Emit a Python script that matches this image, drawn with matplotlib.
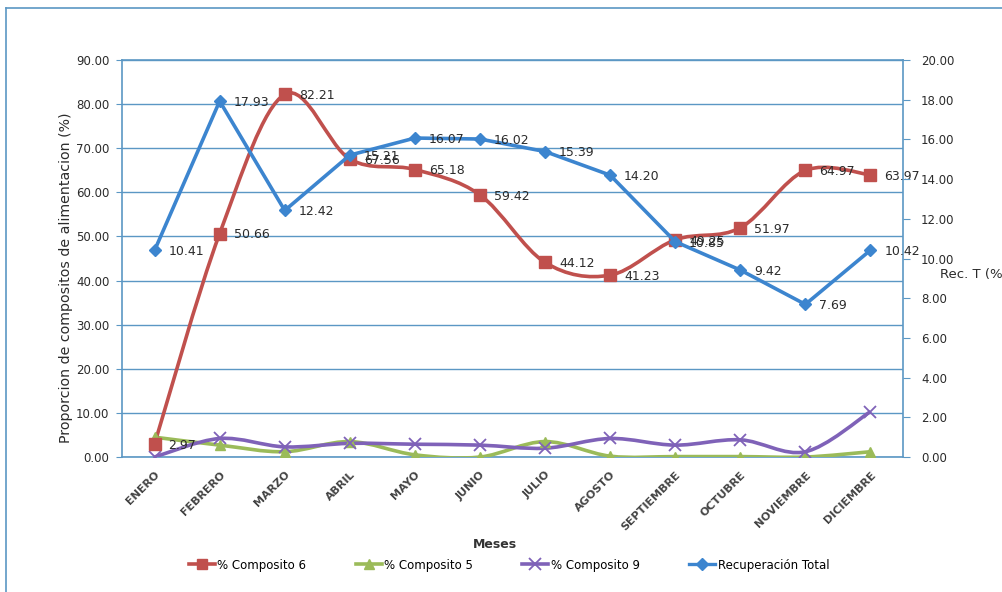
import numpy as np
import matplotlib.pyplot as plt
from matplotlib.path import Path
from matplotlib.patches import PathPatch
from matplotlib.lines import Line2D

meses = ["ENERO", "FEBRERO", "MARZO", "ABRIL", "MAYO", "JUNIO", "JULIO",
         "AGOSTO", "SEPTIEMBRE", "OCTUBRE", "NOVIEMBRE", "DICIEMBRE"]
comp6 = [2.97, 50.66, 82.21, 67.56, 65.18, 59.42, 44.12, 41.23, 49.25, 51.97, 64.97, 63.97]
comp5 = [4.5, 2.7, 1.2, 3.5, 0.5, 0.0, 3.5, 0.2, 0.1, 0.1, 0.0, 1.2]
comp9 = [0.0, 4.2, 2.3, 3.1, 2.9, 2.7, 2.0, 4.2, 2.7, 3.9, 1.2, 10.3]
rec_total = [10.41, 17.93, 12.42, 15.21, 16.07, 16.02, 15.39, 14.20, 10.85, 9.42, 7.69, 10.42]

RED = "#C0504D"
GREEN = "#9BBB59"
PURPLE = "#7F62B8"
BLUE = "#3C85CF"
FRAME = "#5b97c4"
TXT = "#2b2b2b"

plt.rcParams["font.family"] = "DejaVu Sans"


def smooth_path(x, y):
    # cubic bezier through the points (Excel-style smoothed line)
    x = np.asarray(x, float)
    y = np.asarray(y, float)
    verts = [(x[0], y[0])]
    codes = [Path.MOVETO]
    n = len(x)
    for i in range(n - 1):
        i0 = max(i - 1, 0)
        i3 = min(i + 2, n - 1)
        c1 = (x[i] + (x[i + 1] - x[i0]) / 6, y[i] + (y[i + 1] - y[i0]) / 6)
        c2 = (x[i + 1] - (x[i3] - x[i]) / 6, y[i + 1] - (y[i3] - y[i]) / 6)
        verts += [c1, c2, (x[i + 1], y[i + 1])]
        codes += [Path.CURVE4] * 3
    return Path(verts, codes)


fig = plt.figure(figsize=(10.02, 5.92), dpi=100)
ax = fig.add_axes([0.1218, 0.228, 0.7794, 0.6706])
x = np.arange(len(meses))

for vals, col in [(comp5, GREEN), (comp9, PURPLE), (comp6, RED)]:
    ax.add_patch(PathPatch(smooth_path(x, vals), facecolor="none",
                           edgecolor=col, lw=2.6, zorder=3))

ax.plot(x, comp5, ls="none", marker="^", ms=7, color=GREEN, zorder=4)
ax.plot(x, comp9, ls="none", marker="x", ms=8, mew=1.3, color=PURPLE, zorder=4)
ax.plot(x, comp6, ls="none", marker="s", ms=8.5, color=RED, zorder=4)

for xi, v in zip(x, comp6):
    ax.annotate(f"{v:.2f}", (xi, v), xytext=(10, -1), textcoords="offset points",
                fontsize=9, color=TXT, va="center", zorder=6)

ax.set_xlim(-0.5, len(meses) - 0.5)
ax.set_ylim(0, 90)
ax.set_yticks(np.arange(0, 91, 10))
ax.set_yticklabels([f"{v:.2f}" for v in np.arange(0, 91, 10)], fontsize=8.5, color=TXT)
ax.yaxis.grid(True, color=FRAME, lw=1)
ax.set_axisbelow(True)
ax.set_xticks(x)
ax.set_xticklabels(meses, rotation=45, ha="right", rotation_mode="anchor",
                   fontsize=8, fontweight="bold", color="#444444")
ax.tick_params(axis="y", length=4, color=FRAME, pad=5)
ax.tick_params(axis="x", length=0, pad=9)
for s in ax.spines.values():
    s.set_color(FRAME)
    s.set_linewidth(1.2)

ax2 = ax.twinx()
ax2.plot(x, rec_total, color=BLUE, lw=2.6, marker="D", ms=6.5, zorder=5)
for xi, v in zip(x, rec_total):
    ax2.annotate(f"{v:.2f}", (xi, v), xytext=(10, -1), textcoords="offset points",
                 fontsize=9, color=TXT, va="center", zorder=6)
ax2.set_ylim(0, 20)
ax2.set_yticks(np.arange(0, 21, 2))
ax2.set_yticklabels([f"{v:.2f}" for v in np.arange(0, 21, 2)], fontsize=8.5, color=TXT)
ax2.tick_params(axis="y", length=5, color=FRAME, pad=8)
for s in ax2.spines.values():
    s.set_visible(False)

fig.text(0.066, 1 - 278 / 592, "Proporcion de compositos de alimentacion (%)",
         rotation=90, ha="center", va="center", fontsize=10.2, color=TXT)
fig.text(0.938, 1 - 275 / 592, "Rec. T (%)", ha="left", va="center",
         fontsize=9.5, color=TXT)
fig.text(0.494, 1 - 545 / 592, "Meses", ha="center", va="center",
         fontsize=9, fontweight="bold", color="#333333")

handles = [
    Line2D([], [], color=RED, lw=2.6, marker="s", ms=7),
    Line2D([], [], color=GREEN, lw=2.6, marker="^", ms=7),
    Line2D([], [], color=PURPLE, lw=2.6, marker="x", ms=8, mew=1.3),
    Line2D([], [], color=BLUE, lw=2.4, marker="D", ms=6),
]
labels = ["% Composito 6", "% Composito 5", "% Composito 9", "Recuperación Total"]
fig.legend(handles, labels, loc="center", bbox_to_anchor=(0.508, 1 - 565 / 592),
           ncol=4, frameon=False, fontsize=8.5, handlelength=2.2,
           columnspacing=4.2, handletextpad=0.2)

# outer chart frame (left and top edges)
fig.add_artist(Line2D([0.006, 0.006], [0.0, 0.9865], color=FRAME, lw=1.2))
fig.add_artist(Line2D([0.006, 1.0], [0.9865, 0.9865], color=FRAME, lw=1.2))

fig.savefig("out.png", dpi=100)
